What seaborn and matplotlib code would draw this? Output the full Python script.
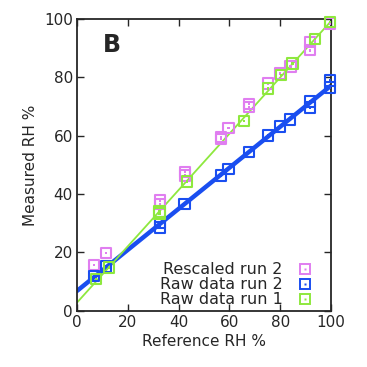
import numpy as np
import pandas as pd
import matplotlib
matplotlib.use("Agg")
import matplotlib.pyplot as plt
import seaborn as sns
from matplotlib.lines import Line2D
from matplotlib.legend_handler import HandlerTuple

# Data
raw1_x = [7.4, 12.5, 32.5, 32.5, 43.3, 65.7, 75.2, 80.2, 84.8, 93.8, 99.7]
raw1_y = [10.9, 14.9, 34.1, 33.4, 44.3, 65.1, 76.2, 80.8, 84.8, 93.1, 99.1]

raw2_x = [6.6, 11.4, 32.7, 32.7, 42.3, 56.7, 59.6, 67.7, 75.2, 79.9, 83.9, 91.8, 91.8, 99.7, 99.7]
raw2_y = [12.0, 15.2, 28.6, 30.3, 36.6, 46.4, 48.7, 54.4, 60.1, 63.2, 65.6, 71.8, 69.7, 79.0, 76.5]

resc2_x = [6.6, 11.4, 32.7, 32.7, 42.6, 42.6, 56.7, 56.7, 59.6, 67.7, 67.7, 75.2, 79.9, 84.0, 91.8, 91.8, 99.7]
resc2_y = [15.7, 19.8, 37.8, 36.7, 47.5, 46.4, 59.5, 59.0, 62.6, 69.9, 71.0, 77.9, 81.3, 83.8, 92.2, 89.3, 98.5]

series_names = ["Rescaled run 2", "Raw data run 2", "Raw data run 1"]
x_ticks = [0, 20, 40, 60, 80, 100]
y_ticks = [0, 20, 40, 60, 80, 100]

pink = "#e07ef0"
blue = "#1a4ef0"
green = "#8ee83e"

sns.set_style("ticks")
plt.rcParams['font.family'] = ['DejaVu Sans']

fig = plt.figure(figsize=(3.67, 3.67), dpi=100)
ax = fig.add_axes([0.210, 0.153, 0.692, 0.795])

df1 = pd.DataFrame({"x": raw1_x, "y": raw1_y})
df2 = pd.DataFrame({"x": raw2_x, "y": raw2_y})
df3 = pd.DataFrame({"x": resc2_x, "y": resc2_y})

ax.set_xlim(0, 100)
ax.set_ylim(0, 100)

# fit lines
sns.regplot(data=df2, x="x", y="y", ax=ax, scatter=False, ci=None, truncate=False,
            line_kws=dict(color=blue, lw=3.2, zorder=2))
sns.regplot(data=df1, x="x", y="y", ax=ax, scatter=False, ci=None, truncate=False,
            line_kws=dict(color=green, lw=1.3, zorder=2))

for df, col in [(df3, pink), (df2, blue), (df1, green)]:
    sns.scatterplot(data=df, x="x", y="y", ax=ax, marker="s", s=55,
                    facecolor="none", edgecolor=col, linewidth=1.5, zorder=3, clip_on=False)
    sns.scatterplot(data=df, x="x", y="y", ax=ax, marker="s", s=3,
                    color=col, edgecolor="none", linewidth=0, zorder=3, clip_on=False)

handles = []
for col, name in [(pink, series_names[0]), (blue, series_names[1]), (green, series_names[2])]:
    sq = Line2D([], [], marker="s", ls="none", markersize=7,
                markerfacecolor="none", markeredgecolor=col, markeredgewidth=1.4)
    dot = Line2D([], [], marker="s", ls="none", markersize=1.5,
                 markerfacecolor=col, markeredgecolor="none")
    handles.append((sq, dot))

ax.set_xlim(0, 100)
ax.set_ylim(0, 100)
ax.set_xticks(x_ticks)
ax.set_yticks(y_ticks)
ax.tick_params(direction="in", top=True, right=True, length=5, width=1, labelsize=11, pad=3)
for s in ax.spines.values():
    s.set_linewidth(1.3)
ax.set_xlabel("Reference RH %", fontsize=11, labelpad=3)
ax.set_ylabel("Measured RH %", fontsize=11, labelpad=4)

ax.legend(handles=handles, labels=series_names, handler_map={tuple: HandlerTuple(ndivide=1)},
          loc="lower right", frameon=False, markerfirst=False,
          fontsize=11.5, handlelength=1.0, handletextpad=0.9, labelspacing=0.0,
          borderaxespad=0.0, bbox_to_anchor=(0.955, -0.01))

ax.text(0.10, 0.91, "B", transform=ax.transAxes, fontsize=17, fontweight="bold",
        ha="left", va="center")

fig.savefig("out.png", dpi=100)
